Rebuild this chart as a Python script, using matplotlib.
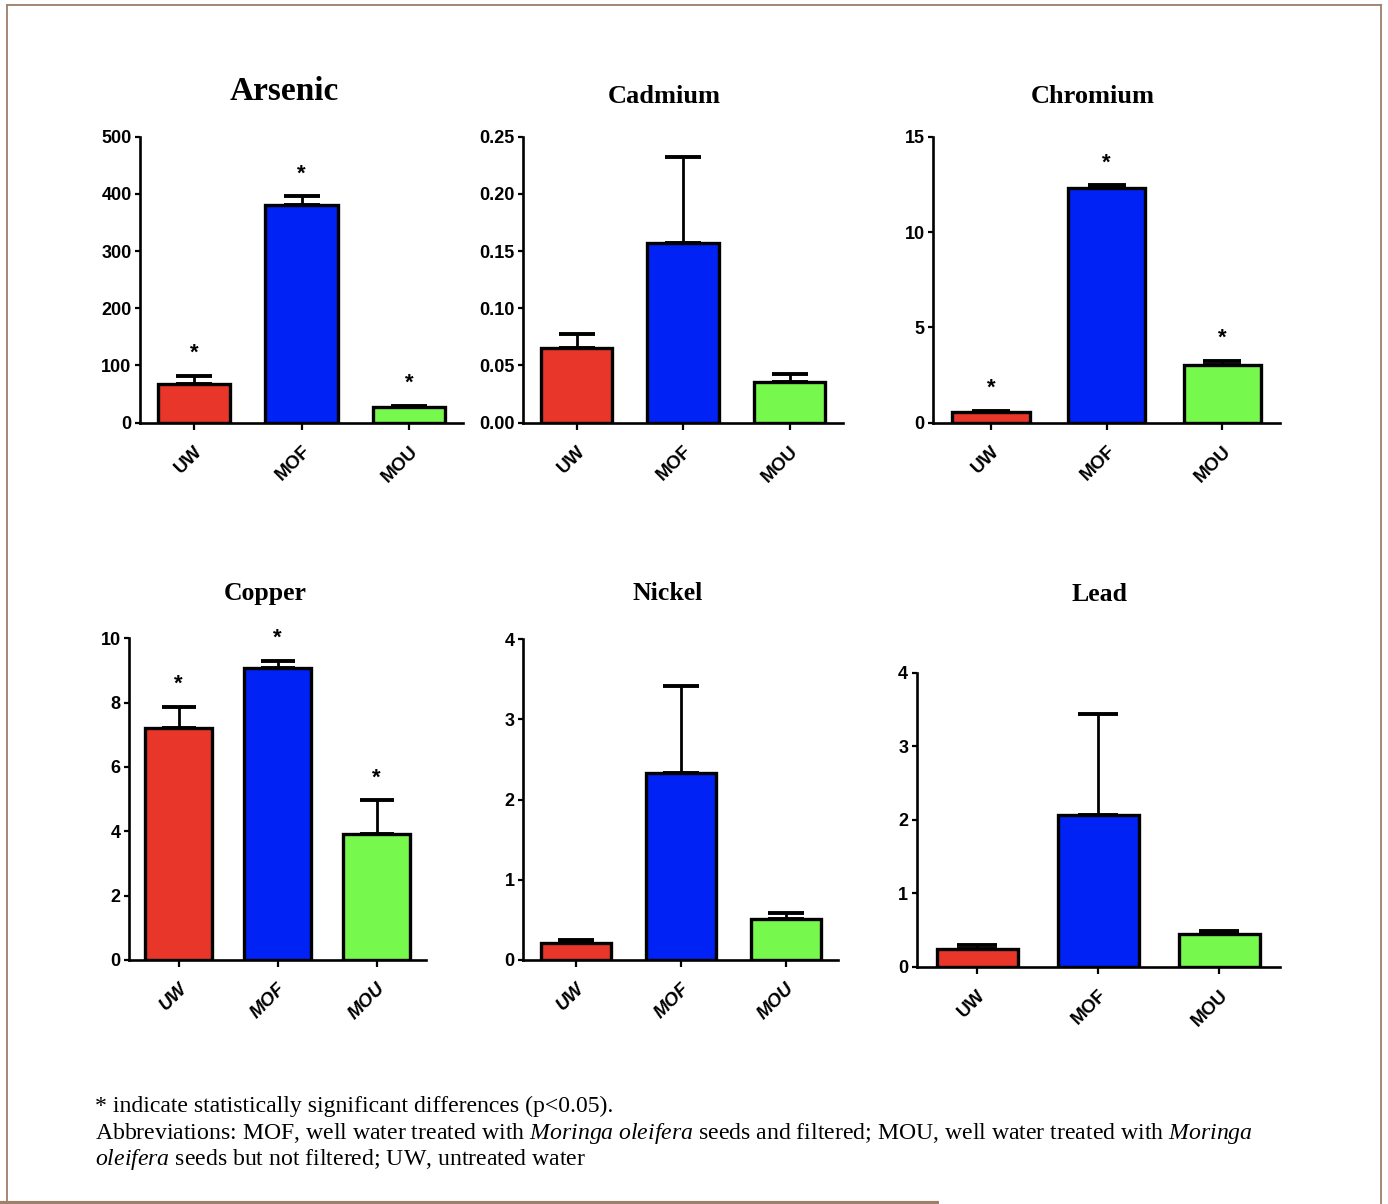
import matplotlib
matplotlib.use('Agg')
import matplotlib.pyplot as plt
from matplotlib.lines import Line2D
import numpy as np

plt.rcParams['font.family'] = ['Liberation Sans', 'DejaVu Sans']
plt.rcParams['mathtext.fontset'] = 'custom'
plt.rcParams['mathtext.rm'] = 'Liberation Serif'
plt.rcParams['mathtext.it'] = 'Liberation Serif:italic'

# ---------------- data ----------------
groups = ['UW', 'MOF', 'MOU']
metals = ['Arsenic', 'Cadmium', 'Chromium', 'Copper', 'Nickel', 'Lead']

arsenic_mean = [68, 380, 28]
arsenic_err = [14, 16, 1.5]
arsenic_sig = [True, True, True]

cadmium_mean = [0.065, 0.157, 0.036]
cadmium_err = [0.0125, 0.0755, 0.0063]
cadmium_sig = [False, False, False]

chromium_mean = [0.58, 12.33, 3.03]
chromium_err = [0.05, 0.14, 0.22]
chromium_sig = [True, True, True]

copper_mean = [7.2, 9.07, 3.92]
copper_err = [0.67, 0.23, 1.05]
copper_sig = [True, True, True]

nickel_mean = [0.216, 2.33, 0.507]
nickel_err = [0.034, 1.08, 0.073]
nickel_sig = [False, False, False]

lead_mean = [0.236, 2.06, 0.445]
lead_err = [0.06, 1.38, 0.045]
lead_sig = [False, False, False]

arsenic_ticks = [0, 100, 200, 300, 400, 500]
cadmium_ticks = [0.00, 0.05, 0.10, 0.15, 0.20, 0.25]
chromium_ticks = [0, 5, 10, 15]
copper_ticks = [0, 2, 4, 6, 8, 10]
nickel_ticks = [0, 1, 2, 3, 4]
lead_ticks = [0, 1, 2, 3, 4]

means = [arsenic_mean, cadmium_mean, chromium_mean, copper_mean, nickel_mean, lead_mean]
errs = [arsenic_err, cadmium_err, chromium_err, copper_err, nickel_err, lead_err]
sigs = [arsenic_sig, cadmium_sig, chromium_sig, copper_sig, nickel_sig, lead_sig]
ticks = [arsenic_ticks, cadmium_ticks, chromium_ticks, copper_ticks, nickel_ticks, lead_ticks]
tick_fmt = ['{:.0f}', '{:.2f}', '{:.0f}', '{:.0f}', '{:.0f}', '{:.0f}']

footer1 = '* indicate statistically significant differences (p<0.05).'
footer2 = (r'Abbreviations: MOF, well water treated with $\mathit{Moringa\ oleifera}$ seeds and filtered; '
           r'MOU, well water treated with $\mathit{Moringa}$')
footer3 = r'$\mathit{oleifera}$ seeds but not filtered; UW, untreated water'

# ---------------- style / layout ----------------
colors = ['#E8362A', '#0022F4', '#76F84C']
W, H = 1388, 1204
# (left, right, top, bottom) in pixels
boxes = [(140, 463, 136.7, 422.7), (523.3, 843, 136.7, 422.7), (933.3, 1280, 136.7, 422.7),
         (129, 426, 638.3, 960), (523.3, 838.3, 639, 960), (916.7, 1280, 672.7, 966.7)]
title_pos = [(284, 100, 24), (664, 102.7, 19), (1093, 102.7, 19),
             (265, 600, 18.5), (668, 600, 18.5), (1099, 600.7, 18.5)]
xlabel_italic = [False, False, False, True, True, False]
PX = 100 / 72.0  # pixels per point
bar_w = 0.67
sans = ['Liberation Sans', 'DejaVu Sans']
serif = ['Liberation Serif', 'DejaVu Serif']

fig = plt.figure(figsize=(W / 100, H / 100), dpi=100)

for k in range(6):
    l, r, t, b = boxes[k]
    ax = fig.add_axes([l / W, 1 - b / H, (r - l) / W, (b - t) / H])
    x = np.arange(len(groups))
    m = np.array(means[k], dtype=float)
    e = np.array(errs[k], dtype=float)
    ax.bar(x, m, width=bar_w, color=colors, edgecolor='black', linewidth=2.4, zorder=2)
    bar_px = bar_w * (r - l) / 3.0
    capsize = bar_px / 2 / PX / 2
    ax.errorbar(x, m, yerr=[np.zeros_like(e), e], fmt='none', ecolor='black',
                elinewidth=2.0, capsize=capsize, capthick=2.8, zorder=1)
    for i in range(len(groups)):
        if sigs[k][i]:
            ax.annotate('*', xy=(x[i], m[i] + e[i]), xytext=(0, 12), textcoords='offset points',
                        ha='center', va='baseline', fontsize=16, fontweight='bold',
                        family=sans, annotation_clip=False)
    ax.set_xlim(-0.5, 2.5)
    ax.set_ylim(ticks[k][0], ticks[k][-1])
    ax.set_yticks(ticks[k], [tick_fmt[k].format(v) for v in ticks[k]])
    ax.set_xticks(x, groups, rotation=45, ha='right', rotation_mode='anchor',
                  fontweight='bold', fontsize=13.5, family=sans,
                  fontstyle='italic' if xlabel_italic[k] else 'normal')
    for lbl in ax.get_yticklabels():
        lbl.set_fontweight('bold')
        lbl.set_fontsize(13)
        lbl.set_family(sans)
    ax.tick_params(axis='y', length=3.6, width=1.6, pad=2.5, direction='out')
    ax.tick_params(axis='x', length=5, width=1.6, pad=9.5, direction='out')
    for s in ['top', 'right']:
        ax.spines[s].set_visible(False)
    for s in ['left', 'bottom']:
        ax.spines[s].set_linewidth(1.9)
    ax.set_facecolor('none')
    tx, ty, ts = title_pos[k]
    fig.text(tx / W, 1 - ty / H, metals[k], ha='center', va='baseline',
             fontsize=ts, fontweight='bold', family=serif)

# footer
for txt, yb in [(footer1, 1112), (footer2, 1139), (footer3, 1165)]:
    fig.text(95 / W, 1 - yb / H, txt, ha='left', va='baseline', fontsize=17.1, family=serif)

# page border
bc = '#9E7F6B'
def hline(y, x0, x1, lw, c=bc):
    fig.add_artist(Line2D([x0 / W, x1 / W], [1 - y / H, 1 - y / H], color=c, lw=lw,
                          transform=fig.transFigure, solid_capstyle='butt'))
def vline(x, y0, y1, lw, c=bc):
    fig.add_artist(Line2D([x / W, x / W], [1 - y0 / H, 1 - y1 / H], color=c, lw=lw,
                          transform=fig.transFigure, solid_capstyle='butt'))
hline(3.8, 6, 1382, 0.8, '#D8D0CA')
hline(5.2, 6, 1382, 1.3)
vline(6.6, 4.5, 1204, 1.3)
vline(1381.2, 4.5, 1204, 1.3)
hline(1202.5, 0, 939, 3.0)

fig.savefig('out.png', dpi=100, facecolor='white')
